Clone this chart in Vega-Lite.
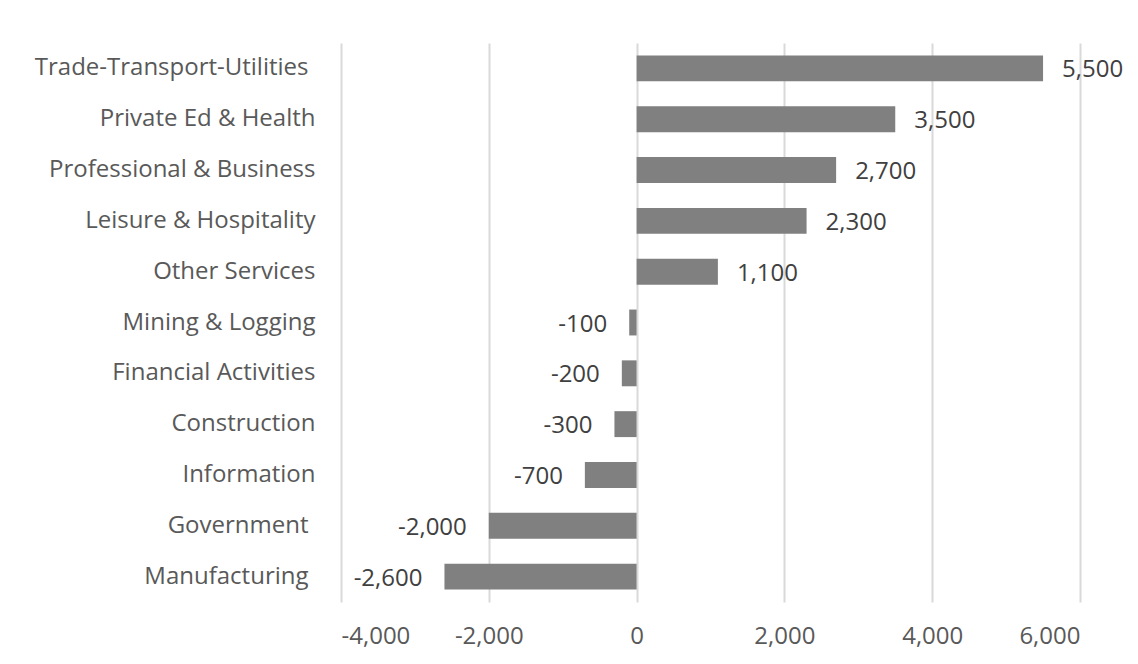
{
  "$schema": "https://vega.github.io/schema/vega-lite/v6.json",
  "width": 739,
  "height": 559,
  "autosize": "none",
  "padding": {"left": 341, "top": 43, "right": 58, "bottom": 62},
  "background": "white",
  "config": {
    "view": {"stroke": null},
    "font": "Open Sans",
    "locale": {"number": {"decimal": ".", "thousands": ",", "grouping": [3], "currency": ["$", ""], "minus": "-"}}
  },
  "data": {
    "values": [
      {"sector": "Trade-Transport-Utilities", "change": 5500},
      {"sector": "Private Ed & Health", "change": 3500},
      {"sector": "Professional & Business", "change": 2700},
      {"sector": "Leisure & Hospitality", "change": 2300},
      {"sector": "Other Services", "change": 1100},
      {"sector": "Mining & Logging", "change": -100},
      {"sector": "Financial Activities", "change": -200},
      {"sector": "Construction", "change": -300},
      {"sector": "Information", "change": -700},
      {"sector": "Government", "change": -2000},
      {"sector": "Manufacturing", "change": -2600}
    ]
  },
  "encoding": {
    "y": {
      "field": "sector", "type": "nominal", "sort": null,
      "scale": {"paddingInner": 0.49, "paddingOuter": 0.245},
      "axis": {
        "title": null, "domain": false, "ticks": false,
        "labelPadding": {"condition": {"test": "indexof(['Trade-Transport-Utilities','Government','Manufacturing'], datum.value) >= 0", "value": 33}, "value": 26},
        "labelFontSize": 24, "labelLimit": 400, "labelColor": "#595959", "labelFont": "Open Sans", "grid": false
      }
    },
    "x": {
      "field": "change", "type": "quantitative",
      "scale": {"domain": [-4000, 6000], "nice": false, "zero": true},
      "axis": {"title": null, "values": [-4000, -2000, 0, 2000, 4000, 6000], "labelExpr": "format(datum.value, ',')", "domain": false, "ticks": false, "labelPadding": 22, "labelFontSize": 24, "labelColor": "#595959", "labelFont": "Open Sans", "grid": true, "gridColor": "#d9d9d9", "gridWidth": 2}
    }
  },
  "layer": [
    {
      "mark": {"type": "bar", "color": "#808080"}
    },
    {
      "transform": [{"filter": "datum.change > 0"}],
      "mark": {"type": "text", "align": "left", "baseline": "middle", "dx": 19, "dy": 2, "fontSize": 24, "color": "#404040", "font": "Open Sans"},
      "encoding": {
        "text": {"field": "change", "type": "quantitative", "format": ","}
      }
    },
    {
      "transform": [{"filter": "datum.change < 0"}],
      "mark": {"type": "text", "align": "right", "baseline": "middle", "dx": -22, "dy": 2, "fontSize": 24, "color": "#404040", "font": "Open Sans"},
      "encoding": {
        "text": {"field": "change", "type": "quantitative", "format": ","}
      }
    }
  ]
}
